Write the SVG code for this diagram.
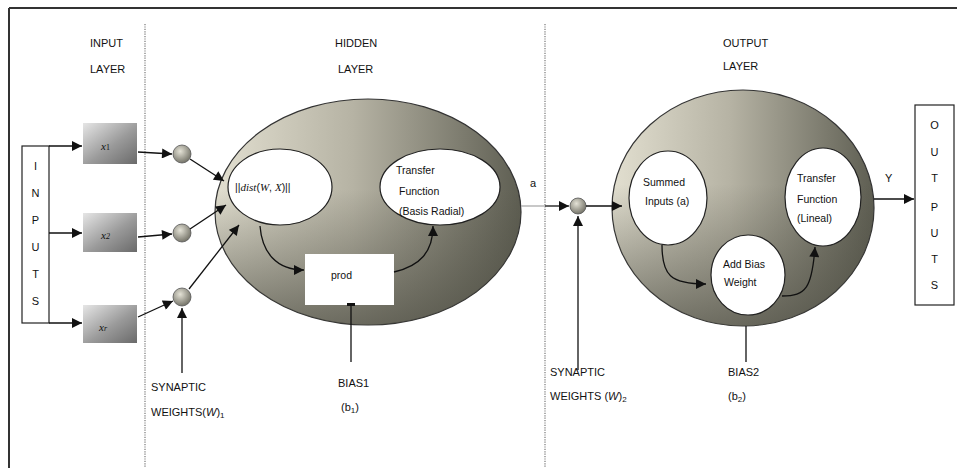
<svg xmlns="http://www.w3.org/2000/svg" width="957" height="468" viewBox="0 0 957 468">
<defs>
<style>
.t{font-family:"Liberation Sans",Arial,sans-serif;font-size:11px;fill:#111}
.s{font-family:"Liberation Sans",Arial,sans-serif;font-size:10.5px;fill:#111}
.v{font-family:"Liberation Serif","Times New Roman",serif;font-style:italic;font-size:11px;fill:#111}
.ln{stroke:#111;stroke-width:1.3;fill:none}
.arr{stroke:#111;stroke-width:1.3;fill:none;marker-end:url(#ah)}
.wht{fill:#fff;stroke:#222;stroke-width:1.2}
.dot{stroke:#777;stroke-width:1.2;stroke-dasharray:1.2 1.2}
.ball{fill:url(#ball);stroke:#555;stroke-width:0.8}
</style>
<marker id="ah" viewBox="0 0 10 10" refX="10" refY="5" markerWidth="11" markerHeight="10" markerUnits="userSpaceOnUse" orient="auto">
<path d="M0,0 L10,5 L0,10 Z" fill="#111"/>
</marker>
<linearGradient id="box" x1="0" y1="0" x2="1" y2="1">
<stop offset="0" stop-color="#e6e6e6"/>
<stop offset="0.55" stop-color="#9a9a9a"/>
<stop offset="1" stop-color="#6a6a6a"/>
</linearGradient>
<linearGradient id="big" x1="0" y1="0" x2="1" y2="0">
<stop offset="0" stop-color="#e2dfd0"/>
<stop offset="0.45" stop-color="#b6b3a4"/>
<stop offset="1" stop-color="#5e5e52"/>
</linearGradient>
<linearGradient id="shade" x1="0" y1="0" x2="0" y2="1">
<stop offset="0.4" stop-color="#4a4a40" stop-opacity="0"/>
<stop offset="1" stop-color="#4a4a40" stop-opacity="0.7"/>
</linearGradient>
<radialGradient id="ball" cx="0.4" cy="0.35" r="0.7">
<stop offset="0" stop-color="#e4e2d6"/>
<stop offset="1" stop-color="#6e6d62"/>
</radialGradient>
</defs>
<rect width="957" height="468" fill="#fff"/>
<g id="frame">
<line x1="9" y1="8" x2="957" y2="8" stroke="#333" stroke-width="2"/>
<line x1="9" y1="8" x2="9" y2="468" stroke="#333" stroke-width="2"/>
<line class="dot" x1="145" y1="24" x2="145" y2="468"/>
<line class="dot" x1="545" y1="24" x2="545" y2="468"/>
</g>
<g id="layer-labels">
<text class="t" x="90" y="47">INPUT</text>
<text class="t" x="90" y="73">LAYER</text>
<text class="t" x="335" y="47">HIDDEN</text>
<text class="t" x="338" y="73">LAYER</text>
<text class="t" x="723" y="47">OUTPUT</text>
<text class="t" x="723" y="70">LAYER</text>
</g>
<g id="inputs">
<rect x="22" y="146" width="27" height="177" fill="#fff" stroke="#222" stroke-width="1.2"/>
<text class="t" text-anchor="middle" x="35.5" y="170">I</text>
<text class="t" text-anchor="middle" x="35.5" y="197">N</text>
<text class="t" text-anchor="middle" x="35.5" y="224">P</text>
<text class="t" text-anchor="middle" x="35.5" y="251">U</text>
<text class="t" text-anchor="middle" x="35.5" y="278">T</text>
<text class="t" text-anchor="middle" x="35.5" y="305">S</text>
</g>
<g id="x1"><rect x="83" y="123" width="54" height="41" fill="url(#box)"/><text class="v" x="101" y="150">x<tspan font-size="8" font-style="normal">1</tspan></text></g>
<g id="x2"><rect x="83" y="213" width="54" height="39" fill="url(#box)"/><text class="v" x="101" y="239">x<tspan font-size="8">2</tspan></text></g>
<g id="xr"><rect x="83" y="305" width="54" height="38" fill="url(#box)"/><text class="v" x="99" y="331">x<tspan font-size="8">r</tspan></text></g>
<g id="w1"><circle class="ball" cx="182" cy="154" r="9"/></g>
<g id="w2"><circle class="ball" cx="182" cy="233" r="9"/></g>
<g id="w3"><circle class="ball" cx="182" cy="297" r="9"/></g>
<g id="hidden">
<ellipse cx="368" cy="212" rx="153" ry="113" fill="url(#big)" stroke="#333" stroke-width="1.2"/>
<ellipse cx="368" cy="212" rx="153" ry="113" fill="url(#shade)"/>
</g>
<g id="dist">
<ellipse class="wht" cx="280" cy="187" rx="52" ry="38"/>
<text class="s" x="235" y="191">||<tspan class="v" font-size="12">dist</tspan>(<tspan class="v" font-size="12">W</tspan>, <tspan class="v" font-size="12">X</tspan>)||</text>
</g>
<g id="transfer1">
<ellipse class="wht" cx="440" cy="187" rx="60" ry="38"/>
<text class="s" x="396" y="174">Transfer</text>
<text class="s" x="399" y="195">Function</text>
<text class="s" x="399" y="215">(Basis Radial)</text>
</g>
<g id="prod">
<rect x="305" y="254" width="89" height="51" fill="#fff"/>
<text class="s" x="331" y="279">prod</text>
</g>
<g id="wout"><circle class="ball" cx="578" cy="206" r="8"/></g>
<g id="output-layer">
<ellipse cx="743" cy="208" rx="131" ry="118" fill="url(#big)" stroke="#333" stroke-width="1.2"/>
<ellipse cx="743" cy="208" rx="131" ry="118" fill="url(#shade)"/>
</g>
<g id="summed">
<ellipse class="wht" cx="668" cy="198" rx="39" ry="47"/>
<text class="s" x="643" y="186">Summed</text>
<text class="s" x="645" y="205">Inputs (a)</text>
</g>
<g id="transfer2">
<ellipse class="wht" cx="823" cy="197" rx="38" ry="49"/>
<text class="s" x="797" y="182">Transfer</text>
<text class="s" x="797" y="203">Function</text>
<text class="s" x="797" y="222">(Lineal)</text>
</g>
<g id="addbias">
<ellipse class="wht" cx="748" cy="275" rx="37" ry="40"/>
<text class="s" x="723" y="268">Add Bias</text>
<text class="s" x="724" y="286">Weight</text>
</g>
<g id="outputs">
<rect x="915" y="105" width="39" height="200" fill="#fff" stroke="#222" stroke-width="1.2"/>
<text class="t" text-anchor="middle" x="934.5" y="129">O</text>
<text class="t" text-anchor="middle" x="934.5" y="156">U</text>
<text class="t" text-anchor="middle" x="934.5" y="182">T</text>
<text class="t" text-anchor="middle" x="934.5" y="211">P</text>
<text class="t" text-anchor="middle" x="934.5" y="237">U</text>
<text class="t" text-anchor="middle" x="934.5" y="263">T</text>
<text class="t" text-anchor="middle" x="934.5" y="289">S</text>
</g>
<g id="connectors">
<path class="arr" d="M49,146 H82"/>
<path class="arr" d="M49,233 H82"/>
<path class="arr" d="M49,323 H82"/>
<path class="arr" d="M138,152 L172,154"/>
<path class="arr" d="M138,237 L172,234"/>
<path class="arr" d="M138,317 L173,301"/>
<path class="arr" d="M190,159 L224,181"/>
<path class="arr" d="M190,229 L226,205"/>
<path class="arr" d="M189,289 L239,225"/>
<path class="arr" d="M182,373 V308"/>
<path class="arr" d="M260,226 C262,252 276,270 304,270"/>
<path class="arr" d="M394,272 C420,266 433,252 433,226"/>
<path class="ln" d="M351,305 V362"/>
<rect x="347" y="303" width="8" height="3" fill="#111"/>
<line x1="521" y1="206" x2="545" y2="206" stroke="#aaa" stroke-width="1.3"/>
<path class="arr" d="M545,206 H569"/>
<path class="arr" d="M586,206 H622"/>
<path class="arr" d="M578,370 V216"/>
<path class="arr" d="M662,245 C662,275 670,284 706,284"/>
<path class="arr" d="M782,296 C806,296 812,288 815,247"/>
<path class="ln" d="M746,326 V362"/>
<path class="arr" d="M874,199 H914"/>
</g>
<g id="labels">
<text class="t" x="530" y="187">a</text>
<text class="t" x="885" y="182">Y</text>
<text class="t" x="151" y="391">SYNAPTIC</text>
<text class="t" x="151" y="416">WEIGHTS(<tspan font-style="italic">W</tspan>)<tspan font-size="8" dy="2">1</tspan></text>
<text class="t" x="338" y="387">BIAS1</text>
<text class="t" x="341" y="411">(b<tspan font-size="8" dy="2">1</tspan><tspan dy="-2">)</tspan></text>
<text class="t" x="550" y="376">SYNAPTIC</text>
<text class="t" x="550" y="400">WEIGHTS  (<tspan font-style="italic">W</tspan>)<tspan font-size="8" dy="2">2</tspan></text>
<text class="t" x="728" y="376">BIAS2</text>
<text class="t" x="728" y="400">(b<tspan font-size="8" dy="2">2</tspan><tspan dy="-2">)</tspan></text>
</g>
</svg>
